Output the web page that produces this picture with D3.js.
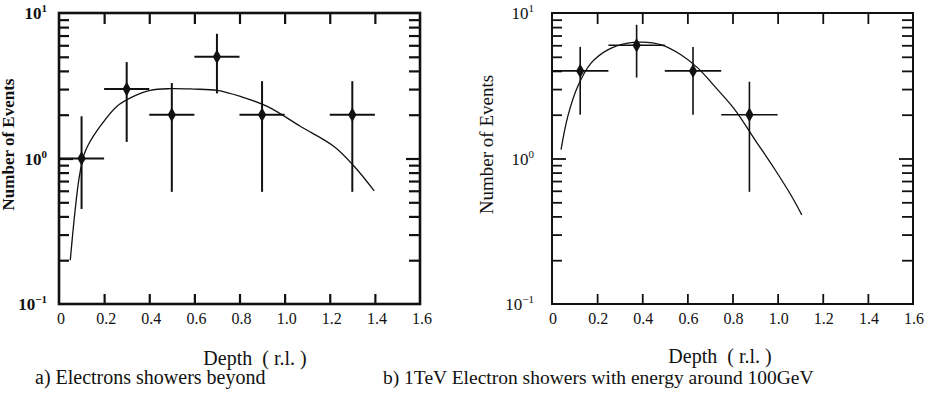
<!DOCTYPE html>
<html>
<head>
<meta charset="utf-8">
<script src="https://cdn.jsdelivr.net/npm/d3@7"></script>
<style>
  body { margin: 0; background: #fff; }
  svg { display: block; font-family: "Liberation Serif", "DejaVu Serif", serif; }
</style>
</head>
<body>
<svg id="chart" width="931" height="398"></svg>
<script>
// x axis ticks (shared by both panels)
var depthTicks = [0, 0.2, 0.4, 0.6, 0.8, 1.0, 1.2, 1.4, 1.6];
var depthTickLabels = ["0", "0.2", "0.4", "0.6", "0.8", "1.0", "1.2", "1.4", "1.6"];
// y axis: log decades and minor ticks
var decadeTicks = [0.1, 1, 10];
var decadeExp = ["-1", "0", "1"];
var minorTicks = [0.2, 0.3, 0.4, 0.5, 0.6, 0.7, 0.8, 0.9, 2, 3, 4, 5, 6, 7, 8, 9];

// panel a) data points with error bars
var depthA = [0.1, 0.3, 0.5, 0.7, 0.9, 1.3];
var depthLoA = [0.0, 0.2, 0.4, 0.6, 0.8, 1.2];
var depthHiA = [0.2, 0.4, 0.6, 0.8, 1.0, 1.4];
var eventsA = [1.0, 3.0, 2.0, 5.0, 2.0, 2.0];
var eventsLoA = [0.45, 1.3, 0.59, 2.8, 0.59, 0.59];
var eventsHiA = [1.95, 4.6, 3.3, 7.2, 3.4, 3.4];
// panel a) fitted curve
var curveDepthA = [0.05, 0.07, 0.09, 0.11, 0.126, 0.182, 0.256, 0.33, 0.404, 0.493, 0.597, 0.701, 0.804, 0.923, 1.071, 1.219, 1.308, 1.397];
var curveEventsA = [0.2, 0.42, 0.75, 1.05, 1.21, 1.66, 2.28, 2.67, 2.94, 3.02, 3.0, 2.94, 2.67, 2.28, 1.66, 1.21, 0.885, 0.6];

// panel b) data points with error bars
var depthB = [0.125, 0.375, 0.625, 0.875];
var depthLoB = [0.0, 0.25, 0.5, 0.75];
var depthHiB = [0.25, 0.5, 0.75, 1.0];
var eventsB = [4.0, 6.0, 4.0, 2.0];
var eventsLoB = [2.0, 3.6, 2.0, 0.59];
var eventsHiB = [5.85, 8.3, 5.85, 3.37];
// panel b) fitted curve
var curveDepthB = [0.04, 0.07, 0.114, 0.173, 0.247, 0.336, 0.396, 0.484, 0.573, 0.647, 0.721, 0.81, 0.899, 0.988, 1.062, 1.107];
var curveEventsB = [1.15, 1.95, 3.13, 4.52, 5.58, 6.2, 6.3, 6.04, 5.15, 4.18, 3.13, 2.17, 1.35, 0.84, 0.55, 0.41];

var svg = d3.select("#chart");

function drawPanel(p) {
    var x = d3.scaleLinear().domain([0, 1.6]).range([p.left, p.right]);
    var y = d3.scaleLog().domain([0.1, 10]).range([p.bottom, p.top]);
    var g = svg.append("g");

    // frame
    g.append("rect")
        .attr("x", p.left).attr("y", p.top)
        .attr("width", p.right - p.left).attr("height", p.bottom - p.top)
        .attr("fill", "none").attr("stroke", "#111").attr("stroke-width", p.frameW);

    // inward ticks on all four sides
    function ticks(axis, transform, size, values) {
        var a = g.append("g").attr("transform", transform)
            .call(axis.tickValues(values).tickSize(size).tickSizeOuter(0).tickFormat(""));
        a.select(".domain").remove();
        a.selectAll("line").attr("stroke", "#111").attr("stroke-width", p.tickW);
    }
    var inner = depthTicks.slice(1, -1);
    ticks(d3.axisBottom(x), "translate(0," + p.bottom + ")", -10, inner);
    ticks(d3.axisTop(x), "translate(0," + p.top + ")", -11, inner);
    ticks(d3.axisLeft(y), "translate(" + p.left + ",0)", -14, [1]);
    ticks(d3.axisLeft(y), "translate(" + p.left + ",0)", -10, minorTicks);
    ticks(d3.axisRight(y), "translate(" + p.right + ",0)", -14, [1]);
    ticks(d3.axisRight(y), "translate(" + p.right + ",0)", -11, minorTicks);

    // x tick labels
    g.selectAll("text.xl").data(depthTicks).join("text")
        .attr("x", function(d) { return x(d) + p.xlShift; })
        .attr("y", p.bottom + 20)
        .attr("text-anchor", "middle")
        .attr("font-size", 16).attr("fill", "#111")
        .text(function(d, i) { return depthTickLabels[i]; });

    // y tick labels 10^n
    var yl = g.selectAll("text.yl").data(decadeTicks).join("text")
        .attr("x", p.ylX)
        .attr("y", function(d) { return y(d) + 6; })
        .attr("text-anchor", "end")
        .attr("font-size", 17).attr("font-weight", p.ylWeight).attr("fill", "#111");
    yl.append("tspan").text("10");
    yl.append("tspan").attr("dy", -7).attr("font-size", 11)
        .text(function(d, i) { return decadeExp[i] === "-1" ? "\u22121" : decadeExp[i]; });

    // axis titles
    g.append("text")
        .attr("x", p.titleX).attr("y", p.titleY)
        .attr("text-anchor", "middle").attr("font-size", 20).attr("fill", "#111")
        .attr("xml:space", "preserve")
        .text("Depth  ( r.l. )");
    g.append("text")
        .attr("transform", "translate(" + p.yTitleX + "," + ((p.top + p.bottom) / 2 - 14) + ")rotate(-90)")
        .attr("text-anchor", "middle").attr("font-size", p.yTitleSize)
        .attr("font-weight", p.ylWeight).attr("fill", "#111")
        .text("Number of Events");

    // fitted curve
    var line = d3.line()
        .x(function(d, i) { return x(p.cx[i]); })
        .y(function(d, i) { return y(p.cy[i]); })
        .curve(d3.curveCatmullRom);
    g.append("path").datum(p.cx)
        .attr("d", line)
        .attr("fill", "none").attr("stroke", "#111").attr("stroke-width", 1.3);

    // error bars
    var idx = d3.range(p.dx.length);
    g.selectAll("line.ex").data(idx).join("line")
        .attr("x1", function(i) { return x(p.dxLo[i]); })
        .attr("x2", function(i) { return x(p.dxHi[i]); })
        .attr("y1", function(i) { return y(p.dy[i]); })
        .attr("y2", function(i) { return y(p.dy[i]); })
        .attr("stroke", "#111").attr("stroke-width", p.errW);
    g.selectAll("line.ey").data(idx).join("line")
        .attr("x1", function(i) { return x(p.dx[i]); })
        .attr("x2", function(i) { return x(p.dx[i]); })
        .attr("y1", function(i) { return y(p.dyLo[i]); })
        .attr("y2", function(i) { return y(p.dyHi[i]); })
        .attr("stroke", "#111").attr("stroke-width", p.errW);
    g.selectAll("path.pt").data(idx).join("path")
        .attr("transform", function(i) { return "translate(" + x(p.dx[i]) + "," + y(p.dy[i]) + ")"; })
        .attr("d", d3.symbol().type(d3.symbolDiamond).size(60))
        .attr("fill", "#111");
}

drawPanel({
    left: 59, right: 420, top: 13, bottom: 304,
    frameW: 2.6, tickW: 2.2, errW: 2, xlShift: 2, ylX: 47, ylWeight: "bold",
    titleX: 255, titleY: 365, yTitleX: 14, yTitleSize: 17,
    dx: depthA, dxLo: depthLoA, dxHi: depthHiA, dy: eventsA, dyLo: eventsLoA, dyHi: eventsHiA,
    cx: curveDepthA, cy: curveEventsA
});

drawPanel({
    left: 552, right: 913, top: 13, bottom: 304,
    frameW: 2, tickW: 1.8, errW: 1.6, xlShift: 1, ylX: 534, ylWeight: "normal",
    titleX: 720, titleY: 363, yTitleX: 493, yTitleSize: 19,
    dx: depthB, dxLo: depthLoB, dxHi: depthHiB, dy: eventsB, dyLo: eventsLoB, dyHi: eventsHiB,
    cx: curveDepthB, cy: curveEventsB
});

// captions
svg.append("text").attr("x", 35).attr("y", 384)
    .attr("font-size", 20).attr("fill", "#111")
    .text("a) Electrons showers beyond");
svg.append("text").attr("x", 383).attr("y", 384)
    .attr("font-size", 19.5).attr("fill", "#111")
    .text("b) 1TeV Electron showers with energy around 100GeV");
</script>
</body>
</html>
